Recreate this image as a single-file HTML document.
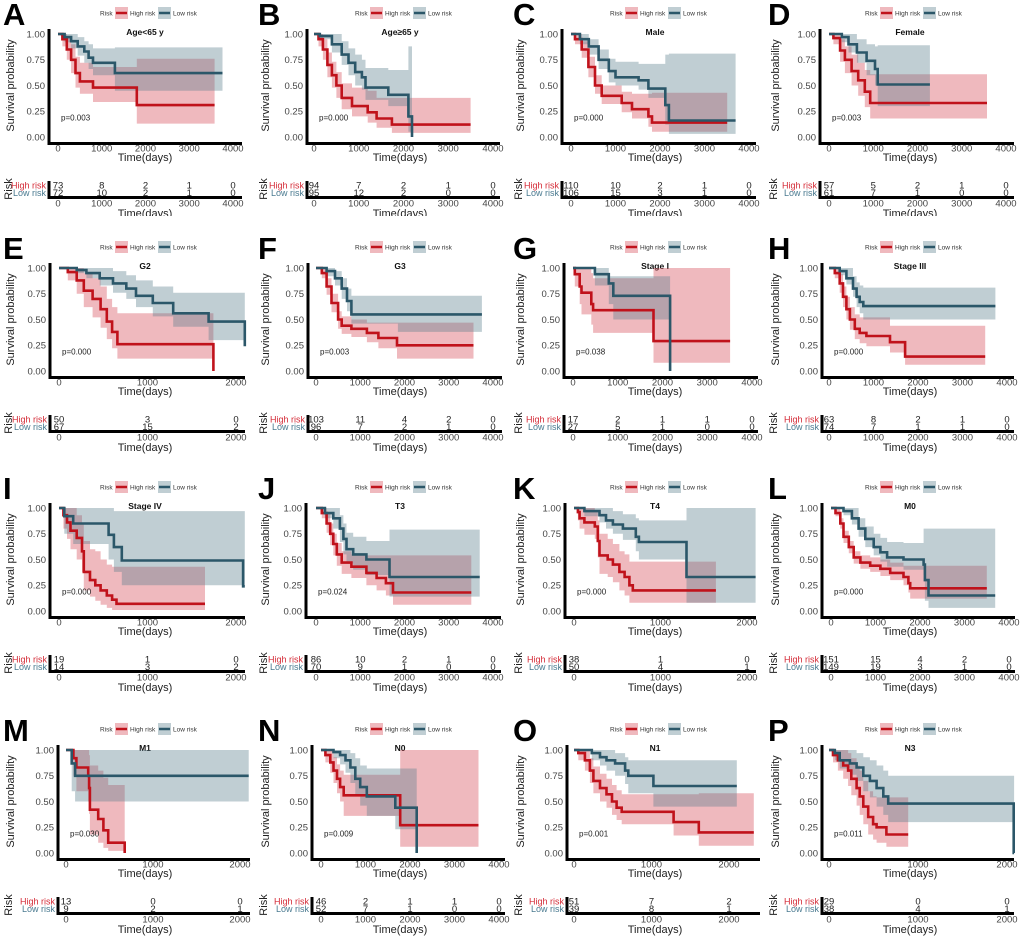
<!DOCTYPE html>
<html><head><meta charset="utf-8"><title>Kaplan-Meier survival panels</title>
<style>
html,body{margin:0;padding:0;background:#fff;}
svg{display:block;font-family:"Liberation Sans",Arial,sans-serif;}
</style></head>
<body>
<svg id="fig" width="1020" height="938" viewBox="0 0 1020 938" xmlns="http://www.w3.org/2000/svg">
<defs>
<clipPath id="clipRow0"><rect x="0" y="0" width="1020" height="216"/></clipPath>
</defs>
</svg>
<script>
// ---- panel data ----
const panelIds = ["A","B","C","D","E","F","G","H","I","J","K","L","M","N","O","P"];
const panelTitles = ["Age<65 y","Age\u226565 y","Male","Female","G2","G3","Stage I","Stage III","Stage IV","T3","T4","M0","M1","N0","N1","N3"];
const pValues = ["p=0.003","p=0.000","p=0.000","p=0.003","p=0.000","p=0.003","p=0.038","p=0.000","p=0.000","p=0.024","p=0.000","p=0.000","p=0.030","p=0.009","p=0.001","p=0.011"];
const tickMax = [4000,4000,4000,4000,2000,4000,4000,4000,2000,4000,2000,4000,2000,4000,2000,2000];
const tickStep = [1000,1000,1000,1000,1000,1000,1000,1000,1000,1000,1000,1000,1000,1000,1000,1000];

const highTimes = {
A:[0,100,200,300,400,500,800,1800], B:[0,100,200,300,400,500,620,850,1200,1400,1740],
C:[0,90,240,390,540,690,1140,1370,1740,1820], D:[0,100,250,360,510,660,810,930],
E:[0,100,200,280,380,470,540,600,660,1745], F:[0,130,240,350,500,580,800,1150,1410,1830],
G:[0,40,150,190,410,450,1800], H:[0,130,240,315,390,470,580,690,840,1370,1710],
I:[0,50,90,130,200,260,280,350,410,470,540,600,650], J:[0,130,240,320,390,470,580,800,1140,1370,1580,1740],
K:[0,45,65,120,240,275,295,390,450,525,585,640,680], L:[0,100,210,280,400,510,660,880,1110,1330,1630,1740,1780],
M:[0,85,120,255,265,275,370,430,485,675], N:[0,100,210,280,360,430,510,1780],
O:[0,55,140,205,250,335,420,490,550,615,1285,1610], P:[0,45,100,160,215,250,310,345,385,440,495,535,645]};
const highEnd = {A:3580,B:3500,C:3510,D:3570,E:1745,F:3560,G:3510,H:3510,I:1650,J:3510,K:1640,L:3500,M:675,N:3540,O:2320,P:890};
const highSurv = {
A:[1,0.95,0.85,0.75,0.62,0.54,0.48,0.31], B:[1,0.95,0.85,0.7,0.6,0.5,0.38,0.3,0.24,0.18,0.12],
C:[1,0.95,0.85,0.68,0.5,0.4,0.33,0.27,0.2,0.14], D:[1,0.96,0.84,0.75,0.64,0.55,0.44,0.33],
E:[1,0.96,0.88,0.78,0.7,0.6,0.48,0.38,0.26,0], F:[1,0.95,0.82,0.66,0.5,0.44,0.41,0.37,0.32,0.25],
G:[1,0.94,0.82,0.76,0.65,0.59,0.29], H:[1,0.95,0.85,0.72,0.6,0.5,0.41,0.37,0.34,0.28,0.14],
I:[1,0.93,0.86,0.78,0.71,0.58,0.38,0.3,0.25,0.2,0.15,0.11,0.07], J:[1,0.95,0.85,0.75,0.65,0.55,0.47,0.43,0.37,0.32,0.27,0.18],
K:[1,0.96,0.9,0.86,0.82,0.68,0.54,0.5,0.45,0.38,0.33,0.25,0.2], L:[1,0.95,0.85,0.72,0.62,0.52,0.47,0.44,0.41,0.37,0.33,0.27,0.22],
M:[1,0.92,0.83,0.75,0.63,0.42,0.33,0.22,0.1,0], N:[1,0.95,0.88,0.8,0.72,0.64,0.56,0.27],
O:[1,0.97,0.9,0.8,0.7,0.63,0.57,0.5,0.44,0.4,0.3,0.2], P:[1,0.95,0.9,0.85,0.8,0.72,0.63,0.55,0.45,0.35,0.28,0.25,0.18]};
const highLower = {
A:[1,0.88,0.75,0.62,0.48,0.42,0.34,0.13], B:[1,0.88,0.75,0.58,0.48,0.38,0.27,0.2,0.14,0.09,0.04],
C:[1,0.9,0.77,0.58,0.42,0.32,0.24,0.18,0.1,0.05], D:[1,0.9,0.73,0.62,0.5,0.4,0.29,0.18],
E:[1,0.88,0.75,0.62,0.52,0.42,0.31,0.22,0.12,0], F:[1,0.9,0.74,0.57,0.41,0.36,0.33,0.28,0.22,0.12],
G:[1,0.82,0.65,0.55,0.45,0.37,0.08], H:[1,0.9,0.76,0.62,0.5,0.4,0.31,0.27,0.24,0.18,0.06],
I:[1,0.8,0.7,0.6,0.5,0.38,0.2,0.14,0.1,0.06,0.03,0.01,0.01], J:[1,0.9,0.76,0.64,0.54,0.44,0.36,0.32,0.25,0.2,0.15,0.06],
K:[1,0.88,0.8,0.74,0.7,0.52,0.36,0.33,0.28,0.2,0.15,0.08,0.08], L:[1,0.92,0.8,0.66,0.56,0.46,0.41,0.38,0.34,0.3,0.25,0.18,0.12],
M:[1,0.75,0.6,0.5,0.38,0.18,0.1,0.05,0.02,0], N:[1,0.88,0.78,0.68,0.58,0.5,0.36,0.06],
O:[1,0.9,0.8,0.68,0.58,0.5,0.44,0.37,0.32,0.28,0.17,0.07], P:[1,0.88,0.8,0.72,0.65,0.56,0.46,0.37,0.28,0.18,0.13,0.1,0.06]};
const highUpper = {
A:[1,1,0.97,0.9,0.78,0.72,0.68,0.76], B:[1,1,0.95,0.82,0.73,0.63,0.52,0.48,0.45,0.38,0.38],
C:[1,1,0.93,0.78,0.6,0.5,0.44,0.42,0.42,0.43], D:[1,1,0.95,0.88,0.8,0.72,0.65,0.61],
E:[1,1,1,0.95,0.9,0.82,0.7,0.62,0.56,0.56], F:[1,1,0.9,0.75,0.58,0.53,0.5,0.47,0.47,0.47],
G:[1,1,1,1,0.95,0.9,1], H:[1,1,0.94,0.82,0.72,0.62,0.55,0.52,0.52,0.44,0.44],
I:[1,1,1,1,0.93,0.84,0.68,0.6,0.58,0.5,0.45,0.43,0.43], J:[1,1,0.95,0.85,0.75,0.66,0.58,0.55,0.54,0.54,0.54,0.54],
K:[1,1,1,1,0.97,0.88,0.75,0.7,0.65,0.58,0.55,0.48,0.48], L:[1,1,0.9,0.78,0.68,0.58,0.54,0.52,0.5,0.47,0.44,0.44,0.44],
M:[1,1,1,1,0.95,0.85,0.8,0.73,0.66,0.66], N:[1,1,1,0.93,0.86,0.8,0.76,1],
O:[1,1,1,0.92,0.84,0.77,0.72,0.66,0.61,0.57,0.57,0.58], P:[1,1,1,1,0.97,0.92,0.85,0.8,0.7,0.6,0.55,0.54,0.54]};

const lowTimes = {
A:[0,150,300,450,600,700,800,1300], B:[0,130,400,620,770,920,1070,1150,1660,2110,2190],
C:[0,200,400,620,850,1000,1520,1740,2120,2200], D:[0,290,440,630,850,1040,1100],
E:[0,200,310,460,610,760,870,1060,1290,1690,2100], F:[0,240,430,580,700,800,1850],
G:[0,490,800,900,2170], H:[0,240,390,540,620,690,770],
I:[0,60,160,560,620,710,2080], J:[0,200,390,540,620,690,840,1140,1660],
K:[0,120,295,370,450,565,715,750,1300], L:[0,280,470,620,770,960,1110,1260,1630,2080,2110,2190],
M:[0,65,105], N:[0,280,430,550,660,770,880,1030,1670,2150],
O:[0,230,335,420,530,660,700,1025], P:[0,65,120,235,310,385,460,535,610,665,2075]};
const lowEnd = {A:3760,B:2190,C:3700,D:2280,E:2100,F:3750,G:2170,H:3740,I:2100,J:3700,K:2100,L:3690,M:2100,N:2150,O:2100,P:2080};
const lowSurv = {
A:[1,0.97,0.93,0.88,0.83,0.77,0.72,0.62], B:[1,0.98,0.9,0.8,0.72,0.63,0.58,0.48,0.41,0.2,0],
C:[1,0.95,0.88,0.75,0.64,0.58,0.55,0.47,0.31,0.16], D:[1,0.97,0.9,0.82,0.74,0.66,0.51],
E:[1,0.98,0.95,0.9,0.85,0.8,0.73,0.66,0.56,0.48,0.24], F:[1,0.97,0.9,0.8,0.68,0.55,0.55],
G:[1,0.94,0.85,0.73,0], H:[1,0.97,0.9,0.8,0.72,0.67,0.63],
I:[1,0.92,0.85,0.74,0.62,0.49,0.24], J:[1,0.95,0.9,0.8,0.7,0.6,0.55,0.5,0.33],
K:[1,0.97,0.93,0.88,0.84,0.8,0.72,0.67,0.33], L:[1,0.97,0.9,0.8,0.7,0.62,0.57,0.52,0.5,0.45,0.3,0.15],
M:[1,0.87,0.75], N:[1,0.98,0.95,0.9,0.83,0.72,0.64,0.55,0.44,0],
O:[1,0.97,0.93,0.9,0.87,0.8,0.75,0.65], P:[1,0.97,0.9,0.87,0.83,0.75,0.7,0.63,0.55,0.48,0]};
const lowLower = {
A:[1,0.92,0.86,0.79,0.72,0.66,0.6,0.45], B:[1,0.95,0.82,0.7,0.6,0.5,0.46,0.36,0.3,0.05,0],
C:[1,0.9,0.8,0.66,0.53,0.5,0.46,0.38,0.12,0.03], D:[1,0.92,0.82,0.72,0.6,0.5,0.3],
E:[1,0.95,0.9,0.83,0.76,0.7,0.62,0.53,0.43,0.3,0.3], F:[1,0.92,0.83,0.7,0.58,0.46,0.38],
G:[1,0.83,0.65,0.5,0], H:[1,0.93,0.84,0.72,0.62,0.56,0.5],
I:[1,0.75,0.65,0.5,0.38,0.25,0.25], J:[1,0.9,0.8,0.67,0.55,0.46,0.4,0.35,0.14],
K:[1,0.92,0.86,0.8,0.75,0.69,0.58,0.5,0.08], L:[1,0.93,0.84,0.72,0.62,0.54,0.48,0.43,0.4,0.35,0.1,0.03],
M:[1,0.6,0.5], N:[1,0.92,0.86,0.78,0.68,0.56,0.46,0.36,0.23,0],
O:[1,0.9,0.85,0.8,0.75,0.67,0.58,0.45], P:[1,0.9,0.82,0.76,0.7,0.6,0.54,0.45,0.37,0.3,0]};
const lowUpper = {
A:[1,1,1,0.97,0.93,0.9,0.86,0.87], B:[1,1,1,0.93,0.86,0.8,0.75,0.67,0.65,0.88,0.88],
C:[1,1,0.95,0.85,0.76,0.73,0.71,0.71,0.8,0.81], D:[1,1,1,0.95,0.9,0.88,0.89],
E:[1,1,1,1,0.97,0.93,0.88,0.82,0.76,0.76,0.76], F:[1,1,0.97,0.9,0.8,0.73,0.73],
G:[1,1,0.92,0.92,1], H:[1,1,1,0.92,0.86,0.83,0.81],
I:[1,1,1,1,0.97,0.97,0.97], J:[1,1,1,0.93,0.85,0.76,0.72,0.68,0.79],
K:[1,1,1,1,0.97,0.94,0.9,0.88,1], L:[1,1,1,0.9,0.82,0.75,0.71,0.67,0.66,0.8,0.8,0.8],
M:[1,1,1], N:[1,1,1,1,0.97,0.92,0.85,0.82,0.82,0.82],
O:[1,1,1,1,0.97,0.93,0.9,0.9], P:[1,1,1,1,0.97,0.93,0.9,0.85,0.8,0.75,0.75]};

const riskHigh = {A:[73,8,2,1,0],B:[94,7,2,1,0],C:[110,10,2,1,0],D:[57,5,2,1,0],E:[50,3,0],F:[103,11,4,2,0],G:[17,2,1,1,0],H:[63,8,2,1,0],I:[19,1,0],J:[86,10,2,1,0],K:[38,1,0],L:[151,15,4,2,0],M:[13,0,0],N:[46,2,1,1,0],O:[51,7,2],P:[29,0,0]};
const riskLow = {A:[72,10,2,1,0],B:[95,12,2,0,0],C:[106,15,3,1,0],D:[61,7,1,0,0],E:[67,15,2],F:[96,7,2,1,0],G:[27,5,1,0,0],H:[74,7,1,1,0],I:[14,3,2],J:[70,9,1,0,0],K:[50,4,1],L:[149,19,3,1,0],M:[9,2,1],N:[52,7,1,0,0],O:[39,8,1],P:[38,4,1]};

// ---- layout (pixel geometry, not data) ----
const colOff = [0,255,510,765];
const rowOff = [0,234,474,716];
const axisXs = [49,307,562,820, 50,308,564,822, 50,306,565,822, 58,312,567,822];
const zeroXs = [58,314,571,829, 59,316,573,829, 59,316,574,831, 66,321,574,829];
const maxXs  = [233,493,749,1006, 236,493,752,1007, 236,493,747,1009, 240,499,729,1007];
const endXs  = [242,500,756,1014, 245,502,758,1014, 245,501,756,1015, 250,505,760,1014];

const RED = "#C0121B", BLUE = "#2B5769";
const NS = "http://www.w3.org/2000/svg";
const svg = document.getElementById("fig");

function mk(tag, attrs, parent){
  const e = document.createElementNS(NS, tag);
  for (const k in attrs) e.setAttribute(k, attrs[k]);
  parent.appendChild(e);
  return e;
}
function txt(parent, x, y, s, size, opts){
  opts = opts || {};
  const t = mk("text", {x:x, y:y, "font-size":size, fill:opts.fill||"#222", "text-anchor":opts.anchor||"start", "font-weight":opts.weight||"normal"}, parent);
  if (opts.transform) t.setAttribute("transform", opts.transform);
  t.textContent = s;
  return t;
}

panelIds.forEach(function(id, i){
  const r = Math.floor(i/4), c = i%4;
  const cx = colOff[c], oy = rowOff[r];
  const g = mk("g", {}, svg);
  
  
  if (r === 0) g.setAttribute("clip-path", "url(#clipRow0)");

  const ax = axisXs[i], x0 = zeroXs[i], xm = maxXs[i], xe = endXs[i];
  const tm = tickMax[i];
  const xS = function(t){ return x0 + (xm - x0) * t / tm; };
  const yTop = 34 + oy, yBot = 137 + oy;
  const yS = function(v){ return yBot - (yBot - yTop) * v; };

  const L = txt(g, cx + 3, oy + 25, id, 31, {weight:"bold", fill:"#000"});
  
  

  const lg = mk("g", {}, g);
  
  
  const lx = cx + 100, ly = oy + 13;
  txt(lg, lx, ly + 2.3, "Risk", 6.5, {fill:"#333"});
  const e1 = mk("g", {}, lg);
  
  
  mk("rect", {x:lx+15, y:ly-6, width:13, height:12, fill:"rgba(214,70,85,0.38)"}, e1);
  mk("line", {x1:lx+16, y1:ly, x2:lx+27, y2:ly, stroke:RED, "stroke-width":2.5}, e1);
  txt(e1, lx+30, ly+2.3, "High risk", 6.5, {fill:"#333"});
  const e2 = mk("g", {}, lg);
  
  
  mk("rect", {x:lx+58, y:ly-6, width:13, height:12, fill:"rgba(90,125,140,0.38)"}, e2);
  mk("line", {x1:lx+59, y1:ly, x2:lx+70, y2:ly, stroke:BLUE, "stroke-width":2.5}, e2);
  txt(e2, lx+73, ly+2.3, "Low risk", 6.5, {fill:"#333"});

  const T = txt(g, cx + 145, oy + 35, panelTitles[i], 8.5, {weight:"bold", anchor:"middle", fill:"#111"});
  
  

  const yl = txt(g, 0, 0, "Survival probability", 11, {anchor:"middle", fill:"#222", transform:"translate(" + (cx+14) + "," + ((yTop+yBot)/2) + ") rotate(-90)"});
  
  
  const yTicks = [0, 0.25, 0.5, 0.75, 1];
  yTicks.forEach(function(v){
    const tl = txt(g, ax - 4, yS(v) + 3.3, v.toFixed(2), 9.5, {anchor:"end", fill:"#444"});
    
    
  });

  function band(times, lo, hi, end, fill, name){
    const n = times.length;
    const up = [], dn = [];
    for (let k = 0; k < n; k++){
      const ta = xS(times[k]), tb = xS(k < n-1 ? times[k+1] : end);
      up.push([ta, yS(hi[k])], [tb, yS(hi[k])]);
      dn.push([ta, yS(lo[k])], [tb, yS(lo[k])]);
    }
    let d = "M" + up.map(function(p){return p[0].toFixed(1)+","+p[1].toFixed(1);}).join("L");
    d += "L" + dn.reverse().map(function(p){return p[0].toFixed(1)+","+p[1].toFixed(1);}).join("L") + "Z";
    const p = mk("path", {d:d, fill:fill, stroke:"none"}, g);
    
    
  }
  band(highTimes[id], highLower[id], highUpper[id], highEnd[id], "rgba(214,70,85,0.38)", "ci-band-high-risk");
  band(lowTimes[id], lowLower[id], lowUpper[id], lowEnd[id], "rgba(90,125,140,0.38)", "ci-band-low-risk");

  function curve(times, surv, end, col, name){
    let d = "M" + xS(times[0]).toFixed(1) + "," + yS(surv[0]).toFixed(1);
    for (let k = 1; k < times.length; k++){
      d += "H" + xS(times[k]).toFixed(1) + "V" + yS(surv[k]).toFixed(1);
    }
    d += "H" + xS(end).toFixed(1);
    const p = mk("path", {d:d, fill:"none", stroke:col, "stroke-width":2.6, "stroke-linejoin":"miter"}, g);
    
    
  }
  curve(highTimes[id], highSurv[id], highEnd[id], RED, "km-curve-high-risk");
  curve(lowTimes[id], lowSurv[id], lowEnd[id], BLUE, "km-curve-low-risk");

  const axY = mk("line", {x1:ax, y1:yTop-5, x2:ax, y2:yBot+8, stroke:"#000", "stroke-width":3}, g);
  
  
  const axX = mk("line", {x1:ax-1.5, y1:yBot+6.5, x2:xe, y2:yBot+6.5, stroke:"#000", "stroke-width":3}, g);
  
  
  const xticks = [];
  for (let t = 0; t <= tm; t += tickStep[i]) xticks.push(t);
  xticks.forEach(function(t){
    const tl = txt(g, xS(t), yBot + 14.5, String(t), 9.5, {anchor:"middle", fill:"#444"});
    
    
  });
  const xl = txt(g, cx + 145, oy + 161, "Time(days)", 11, {anchor:"middle", fill:"#222"});
  
  

  const pv = txt(g, ax + 12, yS(0.19) + 3, pValues[i], 8, {fill:"#222"});
  
  

  const rt = mk("g", {}, g);
  
  
  txt(rt, 0, 0, "Risk", 11, {anchor:"middle", fill:"#222", transform:"translate(" + (cx+12) + "," + (oy+189) + ") rotate(-90)"});
  txt(rt, ax - 3, oy + 188.5, "High risk", 9, {anchor:"end", fill:"#D42A36"});
  txt(rt, ax - 3, oy + 196, "Low risk", 9, {anchor:"end", fill:"#4A7A90"});
  mk("line", {x1:ax, y1:oy+181, x2:ax, y2:oy+199, stroke:"#000", "stroke-width":3}, rt);
  mk("line", {x1:ax-1.5, y1:oy+197.5, x2:xe, y2:oy+197.5, stroke:"#000", "stroke-width":3}, rt);
  xticks.forEach(function(t, k){
    const a = txt(rt, xS(t), oy + 188.5, String(riskHigh[id][k]), 9.5, {anchor:"middle", fill:"#222"});
    
    
    const b = txt(rt, xS(t), oy + 196, String(riskLow[id][k]), 9.5, {anchor:"middle", fill:"#222"});
    
    
    txt(rt, xS(t), oy + 206.5, String(t), 9.5, {anchor:"middle", fill:"#444"});
  });
  txt(rt, cx + 145, oy + 217, "Time(days)", 11, {anchor:"middle", fill:"#222"});
});
</script>
</body></html>
